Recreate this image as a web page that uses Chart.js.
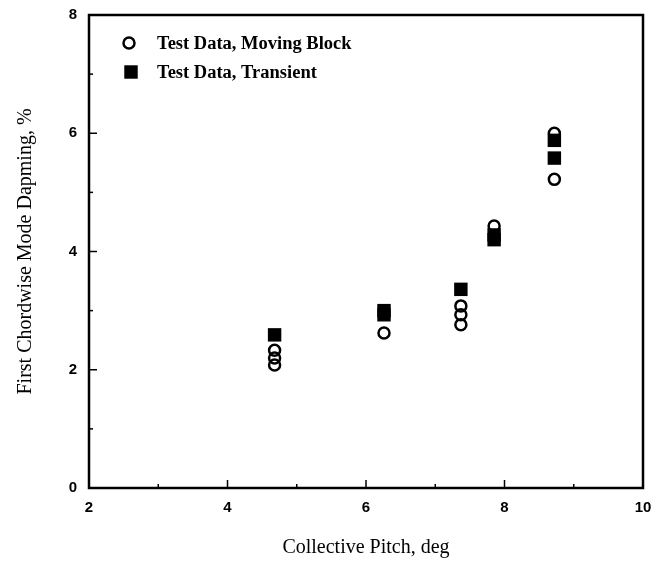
<!DOCTYPE html>
<html>
<head>
<meta charset="utf-8">
<script src="https://cdn.jsdelivr.net/npm/chart.js@4"></script>
<style>
  html, body { margin: 0; padding: 0; background: #fff; }
  #wrap { width: 657px; height: 563px; }
</style>
</head>
<body>
<div id="wrap"><canvas id="dampChart" width="657" height="563"></canvas></div>
<script>
// Data
const seriesLabels = ['Test Data, Moving Block', 'Test Data, Transient'];
const pitchMoving = [4.68, 4.68, 4.68, 6.26, 7.37, 7.37, 7.37, 7.85, 8.72, 8.72];
const dampMoving = [2.33, 2.2, 2.08, 2.62, 3.08, 2.93, 2.76, 4.43, 6.0, 5.22];
const pitchTransient = [4.68, 6.26, 6.26, 7.37, 7.85, 7.85, 8.72, 8.72];
const dampTransient = [2.59, 3.0, 2.93, 3.36, 4.28, 4.2, 5.88, 5.58];
const xTitle = 'Collective Pitch, deg';
const yTitle = 'First Chordwise Mode Dapming, %';

function toPoints(xs, ys) {
    return xs.map((x, i) => ({ x: x, y: ys[i] }));
}

const tickFont = { family: 'Liberation Sans', size: 15, weight: 'bold' };
const titleFont = { family: 'Liberation Serif', size: 20 };

// frame, inward tick marks and the inset legend
const frameTicks = {
    id: 'frameTicks',
    beforeDatasetsDraw(chart) {
        const { ctx, chartArea: a, scales } = chart;
        ctx.save();
        ctx.strokeStyle = '#000';
        ctx.lineWidth = 2.5;
        ctx.strokeRect(a.left, a.top, a.right - a.left, a.bottom - a.top);
        ctx.lineWidth = 1.5;
        scales.x.ticks.forEach(t => {
            const px = scales.x.getPixelForValue(t.value);
            const len = t.value % 2 === 0 ? 8 : 4;
            ctx.beginPath();
            ctx.moveTo(px, a.bottom);
            ctx.lineTo(px, a.bottom - len);
            ctx.stroke();
        });
        scales.y.ticks.forEach(t => {
            const py = scales.y.getPixelForValue(t.value);
            const len = t.value % 2 === 0 ? 8 : 4;
            ctx.beginPath();
            ctx.moveTo(a.left, py);
            ctx.lineTo(a.left + len, py);
            ctx.stroke();
        });
        ctx.restore();
    },
    afterDatasetsDraw(chart) {
        const { ctx, chartArea: a } = chart;
        ctx.save();
        ctx.font = 'bold 18.5px "Liberation Serif"';
        ctx.fillStyle = '#000';
        ctx.strokeStyle = '#000';
        ctx.textBaseline = 'middle';
        chart.data.datasets.forEach((ds, i) => {
            const y = a.top + 28 + i * 29;
            const mx = a.left + 40;
            if (ds.pointStyle === 'circle') {
                ctx.lineWidth = ds.borderWidth;
                ctx.beginPath();
                ctx.arc(mx, y, ds.pointRadius, 0, Math.PI * 2);
                ctx.stroke();
            } else {
                const h = ds.pointRadius * Math.SQRT1_2;
                ctx.fillRect(mx + 2 - h, y - h, 2 * h, 2 * h);
            }
            ctx.fillText(ds.label, a.left + 68, y + 1);
        });
        ctx.restore();
    }
};

const ctx = document.getElementById('dampChart').getContext('2d');
const dampChart = new Chart(ctx, {
    type: 'scatter',
    data: {
        datasets: [{
            label: seriesLabels[0],
            data: toPoints(pitchMoving, dampMoving),
            pointStyle: 'circle',
            pointRadius: 5.5,
            borderWidth: 2.5,
            borderColor: '#000',
            backgroundColor: 'rgba(0,0,0,0)'
        },
        {
            label: seriesLabels[1],
            data: toPoints(pitchTransient, dampTransient),
            pointStyle: 'rect',
            pointRadius: 9.5,
            borderWidth: 0,
            borderColor: '#000',
            backgroundColor: '#000'
        }]
    },
    options: {
        responsive: false,
        animation: false,
        layout: { padding: { left: 0, right: 14, top: 15, bottom: 0 } },
        plugins: {
            legend: { display: false },
            tooltip: { enabled: false }
        },
        scales: {
            x: {
                type: 'linear',
                min: 2,
                max: 10,
                afterFit: s => {
                    s.height = 75;
                    s.paddingLeft = 0;
                    s.paddingRight = 0;
                },
                grid: { display: false, drawTicks: false },
                border: { display: false },
                ticks: {
                    stepSize: 1,
                    padding: 11,
                    color: '#000',
                    font: tickFont,
                    maxRotation: 0,
                    autoSkip: false,
                    callback: v => (v % 2 === 0 ? String(v) : '')
                },
                title: {
                    display: true,
                    text: xTitle,
                    color: '#000',
                    font: titleFont,
                    padding: { top: 0, bottom: 3 }
                }
            },
            y: {
                min: 0,
                max: 8,
                afterFit: s => {
                    s.width = 89;
                    s.paddingTop = 0;
                    s.paddingBottom = 0;
                },
                grid: { display: false, drawTicks: false },
                border: { display: false },
                ticks: {
                    stepSize: 1,
                    padding: 12,
                    color: '#000',
                    font: tickFont,
                    autoSkip: false,
                    callback: v => (v % 2 === 0 ? String(v) : '')
                },
                title: {
                    display: true,
                    text: yTitle,
                    color: '#000',
                    font: titleFont,
                    padding: { top: 14, bottom: 0 }
                }
            }
        }
    },
    plugins: [frameTicks]
});
</script>
</body>
</html>
